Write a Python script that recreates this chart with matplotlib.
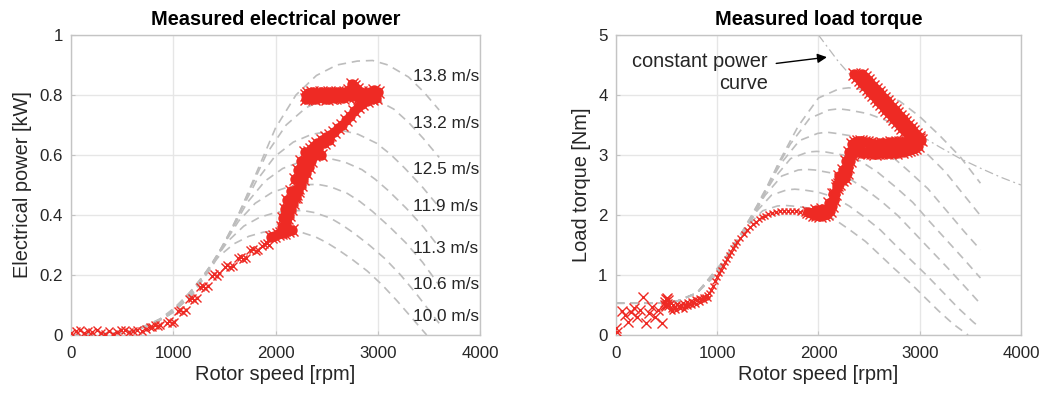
import matplotlib
matplotlib.use("Agg")
import matplotlib.pyplot as plt

plt.rcParams['font.family'] = ['Liberation Sans', 'DejaVu Sans']

# ---------------- data ----------------
wind_labels = ["10.0 m/s", "10.6 m/s", "11.3 m/s", "11.9 m/s", "12.5 m/s", "13.2 m/s", "13.8 m/s"]
wind_label_kw = [0.063, 0.169, 0.289, 0.428, 0.55, 0.706, 0.863]

# modelled electrical power curves [rpm], [kW]
p100_rpm = [0, 400, 600, 725, 870, 1014, 1159, 1304, 1449, 1594, 1739, 1884, 2029, 2138, 2246, 2391, 2500, 2609, 2753, 2898, 3043, 3188, 3333, 3478]
p100_kw = [0, 0.005, 0.012, 0.029, 0.053, 0.091, 0.141, 0.202, 0.263, 0.304, 0.329, 0.343, 0.347, 0.348, 0.343, 0.327, 0.308, 0.285, 0.251, 0.213, 0.167, 0.114, 0.057, 0.0]
p106_rpm = [0, 400, 600, 768, 922, 1075, 1229, 1383, 1536, 1690, 1843, 1997, 2151, 2266, 2381, 2535, 2650, 2765, 2919, 3072, 3226, 3380, 3533, 3600]
p106_kw = [0, 0.005, 0.012, 0.034, 0.063, 0.109, 0.168, 0.240, 0.313, 0.363, 0.392, 0.408, 0.414, 0.415, 0.408, 0.390, 0.367, 0.340, 0.299, 0.254, 0.199, 0.136, 0.068, 0.039]
p113_rpm = [0, 400, 600, 819, 983, 1146, 1310, 1474, 1638, 1801, 1965, 2129, 2293, 2415, 2538, 2702, 2825, 2948, 3111, 3275, 3439, 3600]
p113_kw = [0, 0.005, 0.012, 0.041, 0.077, 0.132, 0.203, 0.291, 0.379, 0.439, 0.475, 0.494, 0.501, 0.502, 0.494, 0.472, 0.445, 0.412, 0.362, 0.307, 0.242, 0.166]
p119_rpm = [0, 400, 600, 862, 1035, 1207, 1380, 1552, 1725, 1897, 2070, 2242, 2414, 2544, 2673, 2846, 2975, 3104, 3277, 3449, 3600]
p119_kw = [0, 0.005, 0.012, 0.048, 0.090, 0.154, 0.237, 0.340, 0.442, 0.513, 0.555, 0.577, 0.585, 0.587, 0.577, 0.551, 0.519, 0.481, 0.423, 0.359, 0.292]
p125_rpm = [0, 400, 600, 906, 1087, 1268, 1449, 1630, 1812, 1993, 2174, 2355, 2536, 2672, 2808, 2989, 3125, 3261, 3442, 3600]
p125_kw = [0, 0.005, 0.012, 0.056, 0.104, 0.178, 0.275, 0.394, 0.513, 0.595, 0.643, 0.669, 0.679, 0.680, 0.669, 0.639, 0.602, 0.557, 0.491, 0.426]
p132_rpm = [0, 400, 600, 957, 1148, 1339, 1530, 1722, 1913, 2104, 2296, 2487, 2678, 2822, 2965, 3156, 3300, 3443, 3600]
p132_kw = [0, 0.005, 0.012, 0.066, 0.123, 0.210, 0.324, 0.464, 0.604, 0.700, 0.757, 0.788, 0.799, 0.801, 0.788, 0.753, 0.709, 0.656, 0.592]
p138_rpm = [0, 400, 600, 800, 1000, 1200, 1400, 1600, 1800, 2000, 2200, 2400, 2600, 2800, 2950, 3100, 3300, 3450, 3600]
p138_kw = [0, 0.005, 0.012, 0.035, 0.075, 0.14, 0.24, 0.37, 0.53, 0.69, 0.80, 0.865, 0.90, 0.913, 0.915, 0.90, 0.86, 0.81, 0.75]

# modelled load torque curves [rpm], [Nm]
t100_rpm = [0, 400, 600, 800, 1014, 1159, 1304, 1449, 1594, 1667, 1739, 1884, 2029, 2174, 2319, 2464, 2609, 2753, 2898, 3043, 3188, 3333, 3478]
t100_nm = [0.53, 0.53, 0.56, 0.70, 1.10, 1.50, 1.83, 2.07, 2.15, 2.16, 2.15, 2.12, 2.05, 1.91, 1.74, 1.56, 1.33, 1.10, 0.88, 0.64, 0.40, 0.18, 0.0]
t106_rpm = [0, 400, 600, 800, 1075, 1229, 1383, 1536, 1690, 1767, 1843, 1997, 2151, 2304, 2458, 2612, 2765, 2919, 3072, 3226, 3380, 3533, 3600]
t106_nm = [0.53, 0.53, 0.56, 0.70, 1.24, 1.68, 2.05, 2.33, 2.42, 2.43, 2.42, 2.38, 2.30, 2.15, 1.96, 1.75, 1.49, 1.24, 0.99, 0.72, 0.45, 0.21, 0.12]
t113_rpm = [0, 400, 600, 800, 1146, 1310, 1474, 1638, 1801, 1883, 1965, 2129, 2293, 2456, 2620, 2784, 2948, 3111, 3275, 3439, 3600]
t113_nm = [0.53, 0.53, 0.56, 0.70, 1.41, 1.91, 2.33, 2.65, 2.75, 2.76, 2.75, 2.70, 2.62, 2.44, 2.23, 1.99, 1.70, 1.41, 1.12, 0.82, 0.52]
t119_rpm = [0, 400, 600, 800, 1035, 1207, 1380, 1552, 1725, 1897, 1983, 2070, 2242, 2414, 2587, 2759, 2932, 3104, 3277, 3449, 3600]
t119_nm = [0.53, 0.53, 0.56, 0.70, 1.13, 1.56, 2.12, 2.59, 2.94, 3.05, 3.06, 3.05, 3.00, 2.90, 2.71, 2.47, 2.21, 1.88, 1.56, 1.24, 0.95]
t125_rpm = [0, 400, 600, 800, 1087, 1268, 1449, 1630, 1812, 1993, 2083, 2174, 2355, 2536, 2717, 2899, 3080, 3261, 3442, 3600]
t125_nm = [0.53, 0.53, 0.56, 0.70, 1.25, 1.72, 2.34, 2.86, 3.24, 3.36, 3.38, 3.36, 3.31, 3.20, 2.99, 2.72, 2.44, 2.08, 1.72, 1.42]
t132_rpm = [0, 400, 600, 800, 1148, 1339, 1530, 1722, 1913, 2104, 2200, 2296, 2487, 2678, 2870, 3061, 3252, 3443, 3600]
t132_nm = [0.53, 0.53, 0.56, 0.70, 1.39, 1.92, 2.61, 3.18, 3.61, 3.75, 3.77, 3.75, 3.69, 3.57, 3.33, 3.04, 2.72, 2.32, 1.99]
t138_rpm = [0, 400, 600, 800, 1000, 1200, 1400, 1600, 1800, 2000, 2200, 2300, 2400, 2600, 2800, 3000, 3200, 3400, 3600]
t138_nm = [0.53, 0.53, 0.56, 0.70, 1.02, 1.52, 2.10, 2.85, 3.48, 3.95, 4.10, 4.12, 4.10, 4.03, 3.90, 3.64, 3.32, 2.97, 2.53]

# constant power curve
cp_rpm = [2000, 2200, 2400, 2600, 2800, 3000, 3200, 3400, 3600, 3800, 4000]
cp_nm = [5.0, 4.55, 4.17, 3.85, 3.57, 3.33, 3.13, 2.94, 2.78, 2.63, 2.5]

# measured electrical power: sparse samples
pw_sparse_rpm = [0, 45, 90, 130, 170, 210, 250, 290, 330, 370, 410, 450, 490, 530, 570, 610, 650, 690, 730, 770,
                 790, 820, 850, 875, 935, 960, 985, 1010,
                 1045, 1070, 1095, 1120, 1155, 1180, 1205, 1230, 1265, 1290, 1315, 1340,
                 1375, 1400, 1425, 1450, 1505, 1530, 1555, 1580, 1635, 1660, 1685, 1710,
                 1755, 1780, 1805, 1830, 1865, 1890, 1915, 1940]
pw_sparse_kw = [0.005, 0.012, 0.015, 0.008, 0.014, 0.010, 0.016, 0.006, 0.004, 0.012, 0.003, 0.010, 0.016, 0.018, 0.010, 0.014, 0.016, 0.012, 0.020, 0.025,
                0.026, 0.032, 0.030, 0.034, 0.040, 0.046, 0.041, 0.044,
                0.080, 0.084, 0.078, 0.082, 0.120, 0.124, 0.118, 0.122, 0.160, 0.164, 0.158, 0.162,
                0.198, 0.202, 0.197, 0.206, 0.228, 0.232, 0.226, 0.230, 0.255, 0.259, 0.252, 0.257,
                0.282, 0.286, 0.280, 0.284, 0.298, 0.302, 0.305, 0.300]
# measured electrical power: dense high-speed samples
pw_dense_rpm = [1960, 1990, 2020, 2050, 2080, 2100, 2110, 2120, 2140, 2160, 2180, 2200, 2220, 2240, 2255, 2270, 2290, 2310,
                2330, 2350, 2380, 2410, 2450, 2490, 2530, 2570, 2610, 2650, 2690, 2730, 2770, 2810, 2850, 2890, 2930, 2970, 3000,
                2960, 2920, 2880, 2840, 2800, 2770, 2750, 2720, 2680, 2640, 2600, 2560, 2520, 2480, 2440, 2400, 2360, 2320, 2300,
                2300, 2340, 2380, 2420, 2460, 2500, 2540, 2580, 2620, 2660, 2700, 2740, 2780, 2820, 2860, 2900, 2940, 2980,
                2060, 2100, 2130, 2150, 2170, 2200, 2220, 2250, 2270, 2300, 2330, 2350, 2380, 2400, 2420, 2440, 2470, 2520,
                2070, 2090, 2110, 2150, 2190, 2220, 2250, 2290, 2080, 2120, 2160]
pw_dense_kw = [0.325, 0.330, 0.335, 0.340, 0.350, 0.370, 0.390, 0.410, 0.430, 0.450, 0.460, 0.470, 0.490, 0.510, 0.530, 0.550, 0.570, 0.590,
               0.610, 0.620, 0.630, 0.640, 0.650, 0.660, 0.665, 0.675, 0.690, 0.700, 0.715, 0.730, 0.745, 0.760, 0.770, 0.780, 0.790, 0.800, 0.810,
               0.815, 0.810, 0.805, 0.810, 0.820, 0.830, 0.835, 0.815, 0.810, 0.805, 0.810, 0.805, 0.810, 0.805, 0.810, 0.805, 0.810, 0.805, 0.800,
               0.785, 0.790, 0.785, 0.790, 0.790, 0.785, 0.790, 0.790, 0.795, 0.790, 0.795, 0.795, 0.795, 0.790, 0.790, 0.790, 0.785, 0.790,
               0.360, 0.380, 0.400, 0.420, 0.440, 0.460, 0.480, 0.500, 0.520, 0.540, 0.560, 0.580, 0.600, 0.610, 0.620, 0.600, 0.640, 0.650,
               0.390, 0.420, 0.450, 0.480, 0.520, 0.550, 0.580, 0.610, 0.340, 0.345, 0.350]

# measured load torque: sparse samples
tq_sparse_rpm = [0, 10, 60, 90, 120, 150, 180, 210, 240, 270, 300, 330, 360, 390, 420, 450, 480,
                 480, 490, 500, 510, 520, 505, 495]
tq_sparse_nm = [0.12, 0.05, 0.40, 0.33, 0.22, 0.38, 0.45, 0.30, 0.42, 0.64, 0.20, 0.36, 0.47, 0.30, 0.42, 0.20, 0.50,
                0.55, 0.60, 0.52, 0.58, 0.50, 0.62, 0.48]
# measured load torque: medium-speed samples
tq_mid_rpm = [540, 560, 580, 600, 620, 640, 660, 680, 700, 720, 740, 760, 780, 800, 820, 840, 860, 880, 900, 920, 940, 960, 980, 1000,
              1020, 1040, 1060, 1080, 1100, 1120, 1140, 1160, 1180, 1200, 1230, 1260, 1290, 1320, 1350, 1380, 1410, 1440, 1470, 1500,
              1540, 1580, 1620, 1660, 1700, 1740, 1780, 1820, 1860, 1900,
              550, 590, 630, 670, 710, 750, 790, 830, 870, 910]
tq_mid_nm = [0.44, 0.50, 0.46, 0.52, 0.48, 0.50, 0.53, 0.49, 0.55, 0.52, 0.57, 0.55, 0.60, 0.58, 0.62, 0.60, 0.64, 0.63, 0.66, 0.70, 0.75, 0.82, 0.90, 0.97,
             1.03, 1.09, 1.15, 1.21, 1.27, 1.33, 1.39, 1.45, 1.50, 1.55, 1.62, 1.69, 1.75, 1.80, 1.85, 1.89, 1.93, 1.96, 1.99, 2.01,
             2.03, 2.05, 2.06, 2.07, 2.07, 2.07, 2.06, 2.05, 2.04, 2.04,
             0.40, 0.42, 0.45, 0.44, 0.48, 0.50, 0.52, 0.55, 0.58, 0.62]
# measured load torque: dense high-speed samples
tq_dense_rpm = [1900, 1930, 1960, 1990, 2020, 2050, 2080, 2110, 2040, 1980, 2130, 2150, 2165, 2180, 2200, 2230, 2260, 2280, 2295, 2310, 2330,
                2200, 2240, 2270, 2300, 2350, 2380, 2100, 2140, 2180, 2210, 2250,
                2330, 2360, 2390, 2420, 2450, 2480, 2510, 2540, 2570, 2600, 2630, 2660, 2690, 2720, 2750, 2780, 2810, 2840, 2870, 2900, 2930, 2960, 2990, 3010,
                2380, 2410, 2440, 2470, 2500, 2530, 2560, 2590, 2620, 2650, 2680, 2710, 2740, 2770, 2800, 2830, 2860, 2890, 2920, 2950, 2980,
                2435, 2462, 2488, 2514, 2541, 2567, 2594, 2620, 2646, 2673, 2699, 2726, 2752, 2778, 2805, 2831, 2858, 2884, 2910, 2937, 2963, 2990,
                2355, 2382, 2408, 2434, 2461, 2487, 2514, 2540, 2566, 2593, 2619, 2646, 2672, 2698, 2725, 2751, 2778, 2804, 2830, 2857, 2883, 2910]
tq_dense_nm = [2.05, 2.03, 2.00, 2.00, 1.98, 2.00, 2.02, 2.06, 2.10, 2.08, 2.15, 2.25, 2.35, 2.45, 2.52, 2.58, 2.62, 2.70, 2.80, 2.90, 3.00,
               2.65, 2.75, 2.90, 3.05, 3.10, 3.15, 2.20, 2.35, 2.50, 2.60, 2.68,
               3.18, 3.22, 3.24, 3.23, 3.22, 3.21, 3.20, 3.19, 3.18, 3.19, 3.20, 3.19, 3.20, 3.21, 3.20, 3.21, 3.22, 3.21, 3.22, 3.23, 3.24, 3.25, 3.26, 3.25,
               3.05, 3.06, 3.04, 3.05, 3.03, 3.04, 3.02, 3.04, 3.03, 3.05, 3.03, 3.04, 3.05, 3.04, 3.06, 3.05, 3.07, 3.08, 3.10, 3.12, 3.15,
               4.35, 4.30, 4.25, 4.20, 4.15, 4.10, 4.05, 4.00, 3.95, 3.90, 3.85, 3.80, 3.75, 3.70, 3.65, 3.60, 3.55, 3.50, 3.45, 3.40, 3.35, 3.30,
               4.35, 4.30, 4.25, 4.20, 4.15, 4.10, 4.05, 4.00, 3.95, 3.90, 3.85, 3.80, 3.75, 3.70, 3.65, 3.60, 3.55, 3.50, 3.45, 3.40, 3.35, 3.30]

x_ticks = [0, 1000, 2000, 3000, 4000]
pw_ticks = [0, 0.2, 0.4, 0.6, 0.8, 1]
pw_ticklabels = ["0", "0.2", "0.4", "0.6", "0.8", "1"]
tq_ticks = [0, 1, 2, 3, 4, 5]

# ---------------- styling ----------------
TXT = '#262626'
AXC = '#c4c4c4'
GRID = '#e6e6e6'
CURVE = '#bdbdbd'
RED = '#ee2a24'
FS_TICK = 12.2
FS_LAB = 14.4

fig = plt.figure(figsize=(10.47, 3.98), dpi=100)
axL = fig.add_axes([0.0678, 0.1583, 0.3907, 0.7538])
axR = fig.add_axes([0.5883, 0.1583, 0.3868, 0.7538])


def style(ax):
    for s in ax.spines.values():
        s.set_color(AXC)
        s.set_linewidth(1.0)
    ax.grid(True, color=GRID, linewidth=1.0)
    ax.set_axisbelow(True)
    ax.tick_params(direction='in', length=3, color=AXC, labelcolor=TXT, labelsize=FS_TICK)
    ax.tick_params(axis='x', pad=8)
    ax.tick_params(axis='y', pad=6)


def dense(ax, xs, ys):
    ax.plot(xs, ys, linestyle='none', marker='o', ms=7.5, mew=0, color=RED, zorder=3)
    ax.plot(xs, ys, linestyle='none', marker='x', ms=8.5, mew=1.0, color=RED, zorder=3)


dash = (0, (5, 3.5))

# left: power
power_curves = [(p100_rpm, p100_kw), (p106_rpm, p106_kw), (p113_rpm, p113_kw), (p119_rpm, p119_kw),
                (p125_rpm, p125_kw), (p132_rpm, p132_kw), (p138_rpm, p138_kw)]
for r, p in power_curves:
    axL.plot(r, p, color=CURVE, lw=1.2, linestyle=dash, zorder=2)
axL.plot(pw_sparse_rpm, pw_sparse_kw, linestyle='none', marker='x', ms=6, mew=1.0, color=RED, zorder=3)
dense(axL, pw_dense_rpm, pw_dense_kw)
for lab, yv in zip(wind_labels, wind_label_kw):
    axL.text(3342, yv, lab, ha='left', va='center', fontsize=12.4, color=TXT, zorder=4)
axL.set_xlim(0, 4000)
axL.set_ylim(0, 1)
axL.set_xticks(x_ticks)
axL.set_yticks(pw_ticks)
axL.set_yticklabels(pw_ticklabels)
style(axL)
axL.set_xlabel("Rotor speed [rpm]", fontsize=FS_LAB, color=TXT, labelpad=3)
axL.set_ylabel("Electrical power [kW]", fontsize=FS_LAB, color=TXT, labelpad=5)
axL.set_title("Measured electrical power", fontsize=FS_LAB, fontweight='bold', color='black', pad=7)

# right: torque
torque_curves = [(t100_rpm, t100_nm), (t106_rpm, t106_nm), (t113_rpm, t113_nm), (t119_rpm, t119_nm),
                 (t125_rpm, t125_nm), (t132_rpm, t132_nm), (t138_rpm, t138_nm)]
for r, t in torque_curves:
    axR.plot(r, t, color=CURVE, lw=1.2, linestyle=dash, zorder=2)
axR.plot(cp_rpm, cp_nm, color='#b8b8b8', lw=0.9, linestyle=(0, (7, 3, 1.5, 3)), zorder=2)
axR.plot(tq_sparse_rpm, tq_sparse_nm, linestyle='none', marker='x', ms=6.5, mew=1.0, color=RED, zorder=3)
axR.plot(tq_mid_rpm, tq_mid_nm, linestyle='none', marker='x', ms=5, mew=1.0, color=RED, zorder=3)
dense(axR, tq_dense_rpm, tq_dense_nm)
axR.annotate("constant power\ncurve", xy=(2084, 4.63), xytext=(1501, 4.37),
             ha='right', va='center', multialignment='right', fontsize=FS_LAB, color=TXT,
             arrowprops=dict(arrowstyle='-|>', color='black', lw=1.0, mutation_scale=14, shrinkA=4, shrinkB=0))
axR.set_xlim(0, 4000)
axR.set_ylim(0, 5)
axR.set_xticks(x_ticks)
axR.set_yticks(tq_ticks)
style(axR)
axR.set_xlabel("Rotor speed [rpm]", fontsize=FS_LAB, color=TXT, labelpad=3)
axR.set_ylabel("Load torque [Nm]", fontsize=FS_LAB, color=TXT, labelpad=5)
axR.set_title("Measured load torque", fontsize=FS_LAB, fontweight='bold', color='black', pad=7)

fig.savefig("out.png", dpi=100)
